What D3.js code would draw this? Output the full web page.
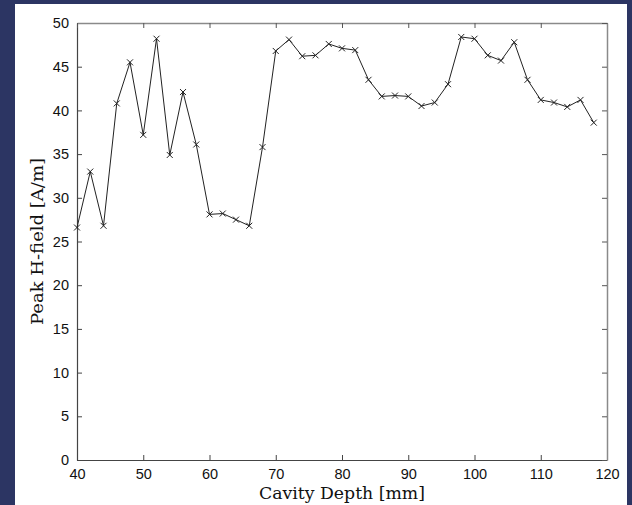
<!DOCTYPE html>
<html>
<head>
<meta charset="utf-8">
<script src="https://cdn.jsdelivr.net/npm/d3@7"></script>
<style>
  html, body { margin: 0; padding: 0; background: #2c3563; }
  svg { display: block; }
</style>
</head>
<body>
<div id="chart"></div>
<script>
// cavity depth in mm, sampled every 2 mm
var depth = [40, 42, 44, 46, 48, 50, 52, 54, 56, 58,
             60, 62, 64, 66, 68, 70, 72, 74, 76, 78,
             80, 82, 84, 86, 88, 90, 92, 94, 96, 98,
             100, 102, 104, 106, 108, 110, 112, 114, 116, 118];
// peak H-field in A/m
var peakH = [26.6, 33.0, 26.8, 40.8, 45.5, 37.2, 48.2, 34.9, 42.1, 36.1,
             28.1, 28.2, 27.5, 26.8, 35.8, 46.8, 48.1, 46.2, 46.3, 47.6,
             47.1, 46.9, 43.5, 41.6, 41.7, 41.6, 40.5, 40.9, 43.0, 48.4,
             48.2, 46.3, 45.7, 47.8, 43.5, 41.2, 40.9, 40.4, 41.2, 38.6];
var xTicks = [40, 50, 60, 70, 80, 90, 100, 110, 120];
var yTicks = [0, 5, 10, 15, 20, 25, 30, 35, 40, 45, 50];

var W = 632, H = 505;
var margin = {top: 23, right: 25, bottom: 45, left: 77},
    width = 607 - margin.left,
    height = 460 - margin.top;

var svg = d3.select("#chart")
    .append("svg")
    .attr("width", W)
    .attr("height", H);

// white figure panel
svg.append("rect")
    .attr("x", 15).attr("y", 4)
    .attr("width", 612).attr("height", H - 4)
    .attr("fill", "#fff");

var g = svg.append("g")
    .attr("transform", "translate(" + margin.left + "," + margin.top + ")");

var x = d3.scaleLinear().domain([40, 120]).range([0, width]);
var y = d3.scaleLinear().domain([0, 50]).range([height, 0]);

var tickLen = 5;

// bottom axis with labels, inward ticks
var xAxis = g.append("g")
    .attr("transform", "translate(0," + height + ")")
    .call(d3.axisBottom(x).tickValues(xTicks).tickSizeInner(-tickLen).tickSizeOuter(0).tickPadding(9));
var yAxis = g.append("g")
    .call(d3.axisLeft(y).tickValues(yTicks).tickSizeInner(-tickLen).tickSizeOuter(0).tickPadding(8));
// top and right: ticks only
var xTop = g.append("g")
    .call(d3.axisTop(x).tickValues(xTicks).tickSizeInner(-tickLen).tickSizeOuter(0).tickFormat(""));
var yRight = g.append("g")
    .attr("transform", "translate(" + width + ",0)")
    .call(d3.axisRight(y).tickValues(yTicks).tickSizeInner(-tickLen).tickSizeOuter(0).tickFormat(""));

[xAxis, yAxis].forEach(function(a) {
    a.select(".domain").attr("stroke", "#444").attr("stroke-width", 1.2);
    a.selectAll(".tick line").attr("stroke", "#444");
});
[xTop, yRight].forEach(function(a) {
    a.select(".domain").attr("stroke", "#8a8a8a").attr("stroke-width", 1.5);
    a.selectAll(".tick line").attr("stroke", "#555");
});
[xAxis, yAxis].forEach(function(a) {
    a.selectAll("text")
        .attr("fill", "#111")
        .style("font-family", "'Liberation Sans', Arial, sans-serif")
        .style("font-size", "14.5px");
});

// line through the samples
var line = d3.line()
    .x(function(d, i) { return x(depth[i]); })
    .y(function(d) { return y(d); });

g.append("path")
    .datum(peakH)
    .attr("fill", "none")
    .attr("stroke", "#222")
    .attr("stroke-width", 1)
    .attr("d", line);

// x markers
var s = 3;
g.selectAll(".mark")
    .data(peakH)
    .enter()
    .append("path")
    .attr("class", "mark")
    .attr("transform", function(d, i) { return "translate(" + x(depth[i]) + "," + y(d) + ")"; })
    .attr("d", "M" + (-s) + "," + (-s) + "L" + s + "," + s + "M" + (-s) + "," + s + "L" + s + "," + (-s))
    .attr("stroke", "#222")
    .attr("stroke-width", 1)
    .attr("fill", "none");

// axis titles
g.append("text")
    .attr("x", width / 2)
    .attr("y", height + 39)
    .attr("text-anchor", "middle")
    .attr("textLength", 166)
    .attr("lengthAdjust", "spacingAndGlyphs")
    .style("font-family", "'DejaVu Serif', serif")
    .style("font-size", "17px")
    .attr("fill", "#111")
    .text("Cavity Depth [mm]");

g.append("text")
    .attr("transform", "translate(-34," + (height / 2) + ") rotate(-90)")
    .attr("text-anchor", "middle")
    .attr("textLength", 167)
    .attr("lengthAdjust", "spacingAndGlyphs")
    .style("font-family", "'DejaVu Serif', serif")
    .style("font-size", "17px")
    .attr("fill", "#111")
    .text("Peak H-field [A/m]");
</script>
</body>
</html>
